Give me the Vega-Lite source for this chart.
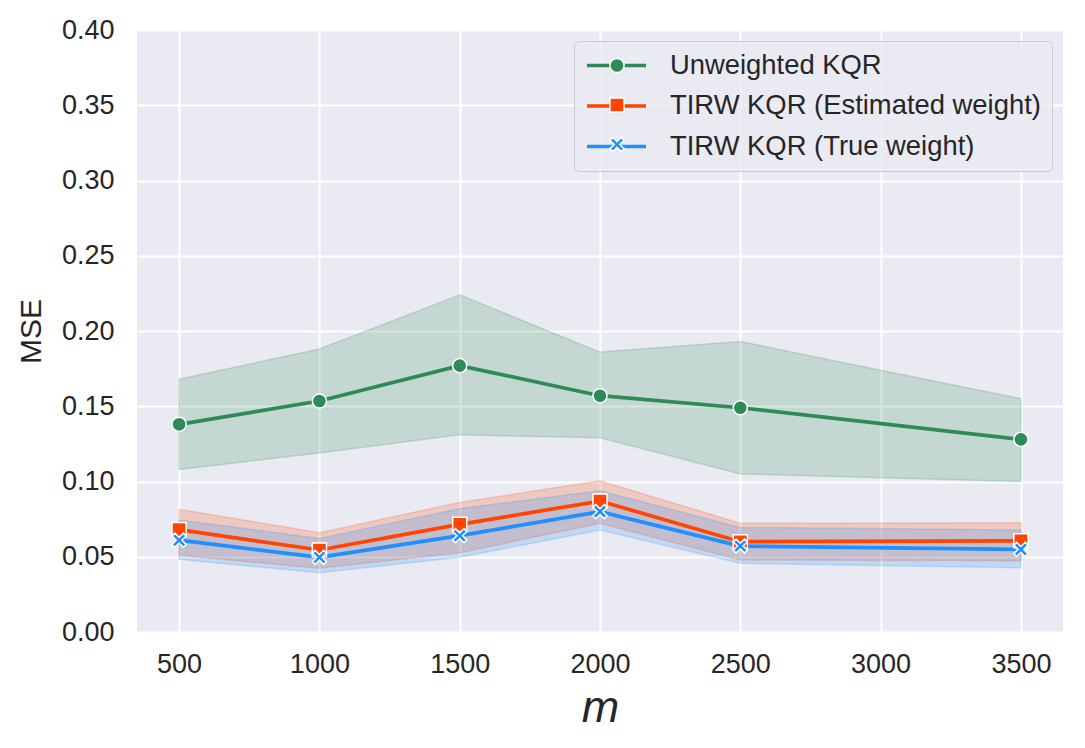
{
  "$schema": "https://vega.github.io/schema/vega-lite/v6.json",
  "description": "MSE against m for unweighted and TIRW kernel quantile regression, with bands",
  "width": 926,
  "height": 602,
  "autosize": {"type": "none"},
  "padding": {"left": 137, "top": 30, "right": 22, "bottom": 116},
  "background": "white",
  "data": {
    "values": [
      {"method": "Unweighted KQR", "m": 500, "mse": 0.138, "lo": 0.108, "hi": 0.168},
      {"method": "Unweighted KQR", "m": 1000, "mse": 0.1535, "lo": 0.119, "hi": 0.188},
      {"method": "Unweighted KQR", "m": 1500, "mse": 0.177, "lo": 0.131, "hi": 0.224},
      {"method": "Unweighted KQR", "m": 2000, "mse": 0.157, "lo": 0.129, "hi": 0.186},
      {"method": "Unweighted KQR", "m": 2500, "mse": 0.149, "lo": 0.105, "hi": 0.193},
      {"method": "Unweighted KQR", "m": 3500, "mse": 0.128, "lo": 0.100, "hi": 0.155},
      {"method": "TIRW KQR (Estimated weight)", "m": 500, "mse": 0.068, "lo": 0.051, "hi": 0.0815},
      {"method": "TIRW KQR (Estimated weight)", "m": 1000, "mse": 0.0545, "lo": 0.0423, "hi": 0.066},
      {"method": "TIRW KQR (Estimated weight)", "m": 1500, "mse": 0.0715, "lo": 0.0527, "hi": 0.0861},
      {"method": "TIRW KQR (Estimated weight)", "m": 2000, "mse": 0.087, "lo": 0.0722, "hi": 0.1005},
      {"method": "TIRW KQR (Estimated weight)", "m": 2500, "mse": 0.060, "lo": 0.0478, "hi": 0.0722},
      {"method": "TIRW KQR (Estimated weight)", "m": 3500, "mse": 0.0606, "lo": 0.0473, "hi": 0.0726},
      {"method": "TIRW KQR (True weight)", "m": 500, "mse": 0.061, "lo": 0.0483, "hi": 0.0744},
      {"method": "TIRW KQR (True weight)", "m": 1000, "mse": 0.0496, "lo": 0.0394, "hi": 0.0622},
      {"method": "TIRW KQR (True weight)", "m": 1500, "mse": 0.064, "lo": 0.0496, "hi": 0.082},
      {"method": "TIRW KQR (True weight)", "m": 2000, "mse": 0.080, "lo": 0.0678, "hi": 0.0938},
      {"method": "TIRW KQR (True weight)", "m": 2500, "mse": 0.0571, "lo": 0.0456, "hi": 0.0695},
      {"method": "TIRW KQR (True weight)", "m": 3500, "mse": 0.0549, "lo": 0.0427, "hi": 0.0677}
    ]
  },
  "encoding": {
    "x": {
      "field": "m",
      "type": "quantitative",
      "scale": {"domain": [350, 3650], "nice": false, "zero": false},
      "axis": {
        "title": "m",
        "titleFontStyle": "italic",
        "titleFontSize": 45,
        "titleFontWeight": "normal",
        "titlePadding": 8,
        "values": [500, 1000, 1500, 2000, 2500, 3000, 3500],
        "format": "d",
        "labelPadding": 19
      }
    },
    "y": {
      "field": "mse",
      "type": "quantitative",
      "scale": {"domain": [0, 0.4], "nice": false},
      "axis": {
        "title": "MSE",
        "titleFontSize": 30,
        "titleFontWeight": "normal",
        "titlePadding": 15,
        "values": [0, 0.05, 0.1, 0.15, 0.2, 0.25, 0.3, 0.35, 0.4],
        "format": ".2f",
        "labelPadding": 23
      }
    }
  },
  "layer": [
    {
      "transform": [{"filter": "datum.method === 'Unweighted KQR'"}],
      "mark": {"type": "area", "fill": "#2e8b57", "stroke": "#2e8b57", "fillOpacity": 0.2, "strokeOpacity": 0.2, "strokeWidth": 1.5},
      "encoding": {
        "y": {"field": "lo", "type": "quantitative"},
        "y2": {"field": "hi"}
      }
    },
    {
      "transform": [{"filter": "datum.method === 'TIRW KQR (Estimated weight)'"}],
      "mark": {"type": "area", "fill": "#ff4500", "stroke": "#ff4500", "fillOpacity": 0.2, "strokeOpacity": 0.2, "strokeWidth": 1.5},
      "encoding": {
        "y": {"field": "lo", "type": "quantitative"},
        "y2": {"field": "hi"}
      }
    },
    {
      "transform": [{"filter": "datum.method === 'TIRW KQR (True weight)'"}],
      "mark": {"type": "area", "fill": "#1e90ff", "stroke": "#1e90ff", "fillOpacity": 0.2, "strokeOpacity": 0.2, "strokeWidth": 1.5},
      "encoding": {
        "y": {"field": "lo", "type": "quantitative"},
        "y2": {"field": "hi"}
      }
    },
    {
      "mark": {"type": "line", "strokeWidth": 3.7},
      "encoding": {
        "color": {
          "field": "method",
          "type": "nominal",
          "sort": null,
          "scale": {"range": ["#2e8b57", "#ff4500", "#1e90ff"]},
          "legend": {
            "orient": "top-right",
            "offset": 11,
            "title": null,
            "symbolType": "stroke",
            "symbolSize": 3481,
            "symbolStrokeWidth": 3.7,
            "clipHeight": 27,
            "labelFontSize": 27.4,
            "labelLimit": 600,
            "labelOffset": 22,
            "rowPadding": 12.5,
            "padding": 11,
            "fillColor": "rgba(234,234,242,0.8)",
            "strokeColor": "#cccccc",
            "cornerRadius": 5
          }
        }
      }
    },
    {
      "mark": {"type": "point", "filled": true, "opacity": 1, "size": 200, "stroke": "white", "strokeWidth": 1.5},
      "encoding": {
        "fill": {
          "field": "method",
          "type": "nominal",
          "scale": {
            "domain": ["Unweighted KQR", "TIRW KQR (Estimated weight)", "TIRW KQR (True weight)"],
            "range": ["#2e8b57", "#ff4500", "#1e90ff"]
          },
          "legend": {
            "orient": "none",
            "legendX": 461,
            "legendY": 11,
            "title": null,
            "labelExpr": "''",
            "symbolSize": 200,
            "clipHeight": 27,
            "rowPadding": 12.5,
            "padding": 11
          }
        },
        "shape": {
          "field": "method",
          "type": "nominal",
          "scale": {
            "domain": ["Unweighted KQR", "TIRW KQR (Estimated weight)", "TIRW KQR (True weight)"],
            "range": [
              "circle",
              "square",
              "M-1,-0.6L-0.6,-1L0,-0.4L0.6,-1L1,-0.6L0.4,0L1,0.6L0.6,1L0,0.4L-0.6,1L-1,0.6L-0.4,0Z"
            ]
          },
          "legend": {
            "orient": "none",
            "legendX": 461,
            "legendY": 11,
            "title": null,
            "labelExpr": "''",
            "symbolSize": 200,
            "clipHeight": 27,
            "rowPadding": 12.5,
            "padding": 11
          }
        }
      }
    }
  ],
  "config": {
    "view": {"fill": "#eaeaf2", "stroke": null},
    "font": "Liberation Sans",
    "axis": {
      "domain": false,
      "ticks": false,
      "grid": true,
      "gridColor": "white",
      "gridWidth": 2,
      "labelFont": "Liberation Sans",
      "labelFontSize": 27,
      "labelColor": "#262626",
      "titleFont": "Liberation Sans",
      "titleColor": "#262626"
    },
    "legend": {
      "labelFont": "Liberation Sans",
      "labelColor": "#262626"
    }
  }
}
